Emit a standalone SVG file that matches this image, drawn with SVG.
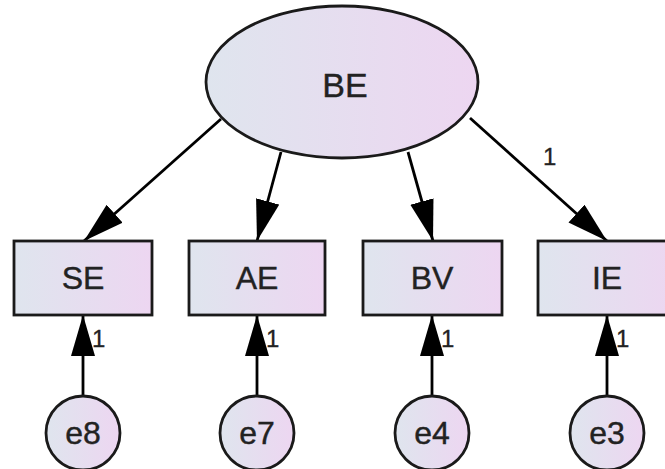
<svg xmlns="http://www.w3.org/2000/svg" width="665" height="469" viewBox="0 0 665 469">
  <defs>
    <linearGradient id="fill" x1="0" y1="0" x2="1" y2="0">
      <stop offset="0" stop-color="#dfe5ee"/>
      <stop offset="1" stop-color="#edd6f1"/>
    </linearGradient>
    <marker id="head" markerUnits="userSpaceOnUse" markerWidth="44" markerHeight="26" refX="41" refY="12" orient="auto" viewBox="0 0 44 26">
      <path d="M0,0 L41,12 L0,24 Z" fill="#000"/>
    </marker>
  </defs>
  <style>
    .shape { fill: url(#fill); stroke: #1a1a1a; stroke-width: 2.8; }
    .label { font-family: "Liberation Sans", Arial, sans-serif; fill: #222; stroke: #222; stroke-width: 0.4; text-anchor: middle; }
    .big { font-size: 34px; }
    .mid { font-size: 32px; }
    .small { font-size: 24px; text-anchor: start; stroke-width: 0.3; }
    .link { stroke: #000; stroke-width: 2.8; fill: none; marker-end: url(#head); }
  </style>
  <rect width="665" height="469" fill="#fff"/>

  <g id="connectors">
    <line class="link" x1="221" y1="119" x2="84" y2="241"/>
    <line class="link" x1="281" y1="152" x2="257" y2="241"/>
    <line class="link" x1="408" y1="152" x2="433" y2="241"/>
    <line class="link" x1="470" y1="118" x2="607" y2="241"/>
    <line class="link" x1="83" y1="396" x2="83" y2="315"/>
    <line class="link" x1="257" y1="396" x2="257" y2="315"/>
    <line class="link" x1="432" y1="396" x2="432" y2="315"/>
    <line class="link" x1="607" y1="396" x2="607" y2="315"/>
    <text class="label small" x="543" y="165">1</text>
    <text class="label small" x="92" y="347">1</text>
    <text class="label small" x="266" y="347">1</text>
    <text class="label small" x="441" y="347">1</text>
    <text class="label small" x="616" y="347">1</text>
  </g>

  <g id="BE">
    <ellipse class="shape" cx="342" cy="82" rx="136" ry="76"/>
    <text class="label big" x="345" y="97">BE</text>
  </g>

  <g id="SE">
    <rect class="shape" x="14" y="241" width="138" height="74"/>
    <text class="label mid" x="83" y="289">SE</text>
  </g>
  <g id="AE">
    <rect class="shape" x="189" y="241" width="136" height="74"/>
    <text class="label mid" x="257" y="289">AE</text>
  </g>
  <g id="BV">
    <rect class="shape" x="363" y="241" width="139" height="74"/>
    <text class="label mid" x="432" y="289">BV</text>
  </g>
  <g id="IE">
    <rect class="shape" x="538" y="241" width="140" height="74"/>
    <text class="label mid" x="607" y="289">IE</text>
  </g>

  <g id="e8">
    <circle class="shape" cx="83" cy="433" r="37"/>
    <text class="label mid" x="83" y="444">e8</text>
  </g>
  <g id="e7">
    <circle class="shape" cx="257" cy="433" r="37"/>
    <text class="label mid" x="257" y="444">e7</text>
  </g>
  <g id="e4">
    <circle class="shape" cx="432" cy="433" r="37"/>
    <text class="label mid" x="432" y="444">e4</text>
  </g>
  <g id="e3">
    <circle class="shape" cx="607" cy="433" r="37"/>
    <text class="label mid" x="607" y="444">e3</text>
  </g>
</svg>
